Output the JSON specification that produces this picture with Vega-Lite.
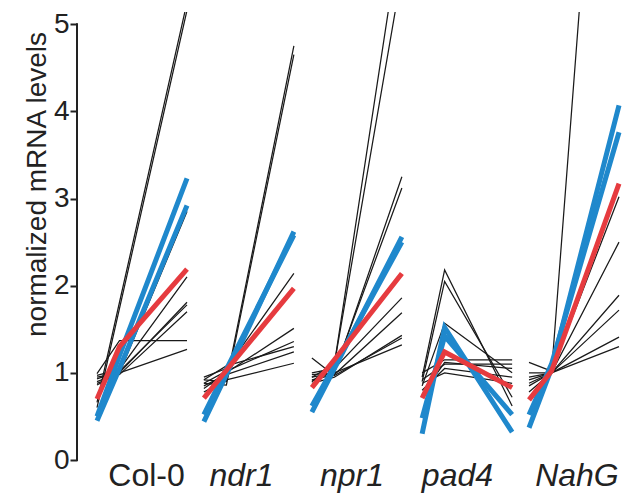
{
  "$schema": "https://vega.github.io/schema/vega-lite/v6.json",
  "width": 545,
  "height": 448,
  "autosize": {"type": "none"},
  "padding": {"left": 77, "top": 12, "right": 0, "bottom": 33},
  "background": "white",
  "config": {"view": {"stroke": null}, "font": "Liberation Sans"},
  "datasets": {
    "lines": [
      {"id":"c1","c":"k","x":0,"v":0.99},{"id":"c1","c":"k","x":1,"v":1.37},{"id":"c1","c":"k","x":4,"v":1.37},
      {"id":"c2","c":"k","x":0,"v":0.95},{"id":"c2","c":"k","x":1,"v":1.0},{"id":"c2","c":"k","x":4,"v":1.27},
      {"id":"c3","c":"k","x":0,"v":0.9},{"id":"c3","c":"k","x":1,"v":1.0},{"id":"c3","c":"k","x":4,"v":1.81},
      {"id":"c4","c":"k","x":0,"v":0.93},{"id":"c4","c":"k","x":1,"v":1.02},{"id":"c4","c":"k","x":4,"v":1.78},
      {"id":"c5","c":"k","x":0,"v":0.88},{"id":"c5","c":"k","x":1,"v":0.98},{"id":"c5","c":"k","x":4,"v":1.70},
      {"id":"c6","c":"k","x":0,"v":0.86},{"id":"c6","c":"k","x":1,"v":1.0},{"id":"c6","c":"k","x":4,"v":2.85},
      {"id":"c7","c":"k","x":0,"v":0.97},{"id":"c7","c":"k","x":1,"v":1.04},{"id":"c7","c":"k","x":4,"v":2.1},
      {"id":"c8","c":"k","x":0,"v":0.6},{"id":"c8","c":"k","x":1,"v":1.74},{"id":"c8","c":"k","x":4,"v":5.16},
      {"id":"c9","c":"k","x":0,"v":0.66},{"id":"c9","c":"k","x":1,"v":1.81},{"id":"c9","c":"k","x":4,"v":5.25},
      {"id":"cb1","c":"b","x":0,"v":0.5},{"id":"cb1","c":"b","x":1,"v":1.2},{"id":"cb1","c":"b","x":4,"v":3.23},
      {"id":"cb2","c":"b","x":0,"v":0.45},{"id":"cb2","c":"b","x":1,"v":1.05},{"id":"cb2","c":"b","x":4,"v":2.92},
      {"id":"cr","c":"r","x":0,"v":0.7},{"id":"cr","c":"r","x":1,"v":1.3},{"id":"cr","c":"r","x":4,"v":2.19},

      {"id":"n1","c":"k","x":4.75,"v":0.95},{"id":"n1","c":"k","x":5.75,"v":1.05},{"id":"n1","c":"k","x":8.75,"v":2.14},
      {"id":"n2","c":"k","x":4.75,"v":0.82},{"id":"n2","c":"k","x":5.75,"v":1.0},{"id":"n2","c":"k","x":8.75,"v":1.51},
      {"id":"n3","c":"k","x":4.75,"v":0.88},{"id":"n3","c":"k","x":5.75,"v":1.02},{"id":"n3","c":"k","x":8.75,"v":1.36},
      {"id":"n4","c":"k","x":4.75,"v":0.92},{"id":"n4","c":"k","x":5.75,"v":1.08},{"id":"n4","c":"k","x":8.75,"v":1.30},
      {"id":"n5","c":"k","x":4.75,"v":0.85},{"id":"n5","c":"k","x":5.75,"v":0.98},{"id":"n5","c":"k","x":8.75,"v":1.24},
      {"id":"n6","c":"k","x":4.75,"v":0.78},{"id":"n6","c":"k","x":5.75,"v":0.92},{"id":"n6","c":"k","x":8.75,"v":1.11},
      {"id":"n7","c":"k","x":4.75,"v":0.92},{"id":"n7","c":"k","x":5.75,"v":0.9},{"id":"n7","c":"k","x":8.75,"v":4.75},
      {"id":"n8","c":"k","x":4.75,"v":0.88},{"id":"n8","c":"k","x":5.75,"v":0.86},{"id":"n8","c":"k","x":8.75,"v":4.65},
      {"id":"nb1","c":"b","x":4.75,"v":0.44},{"id":"nb1","c":"b","x":5.75,"v":0.98},{"id":"nb1","c":"b","x":8.75,"v":2.62},
      {"id":"nb2","c":"b","x":4.75,"v":0.52},{"id":"nb2","c":"b","x":5.75,"v":1.04},{"id":"nb2","c":"b","x":8.75,"v":2.58},
      {"id":"nr","c":"r","x":4.75,"v":0.71},{"id":"nr","c":"r","x":5.75,"v":1.03},{"id":"nr","c":"r","x":8.75,"v":1.97},

      {"id":"p1","c":"k","x":9.55,"v":1.17},{"id":"p1","c":"k","x":10.55,"v":0.97},{"id":"p1","c":"k","x":13.55,"v":1.40},
      {"id":"p2","c":"k","x":9.55,"v":0.95},{"id":"p2","c":"k","x":10.55,"v":1.0},{"id":"p2","c":"k","x":13.55,"v":3.25},
      {"id":"p3","c":"k","x":9.55,"v":0.9},{"id":"p3","c":"k","x":10.55,"v":1.02},{"id":"p3","c":"k","x":13.55,"v":3.12},
      {"id":"p4","c":"k","x":9.55,"v":1.0},{"id":"p4","c":"k","x":10.55,"v":1.05},{"id":"p4","c":"k","x":13.55,"v":1.86},
      {"id":"p5","c":"k","x":9.55,"v":0.92},{"id":"p5","c":"k","x":10.55,"v":0.98},{"id":"p5","c":"k","x":13.55,"v":1.69},
      {"id":"p6","c":"k","x":9.55,"v":0.88},{"id":"p6","c":"k","x":10.55,"v":0.95},{"id":"p6","c":"k","x":13.55,"v":1.43},
      {"id":"p7","c":"k","x":9.55,"v":0.98},{"id":"p7","c":"k","x":10.55,"v":1.0},{"id":"p7","c":"k","x":13.55,"v":1.32},
      {"id":"p8","c":"k","x":9.55,"v":0.95},{"id":"p8","c":"k","x":10.55,"v":1.1},{"id":"p8","c":"k","x":13.55,"v":6.17},
      {"id":"p9","c":"k","x":9.55,"v":0.9},{"id":"p9","c":"k","x":10.55,"v":1.1},{"id":"p9","c":"k","x":13.55,"v":5.59},
      {"id":"pb1","c":"b","x":9.55,"v":0.55},{"id":"pb1","c":"b","x":10.55,"v":1.05},{"id":"pb1","c":"b","x":13.55,"v":2.56},
      {"id":"pb2","c":"b","x":9.55,"v":0.62},{"id":"pb2","c":"b","x":10.55,"v":1.08},{"id":"pb2","c":"b","x":13.55,"v":2.5},
      {"id":"pr","c":"r","x":9.55,"v":0.83},{"id":"pr","c":"r","x":10.55,"v":1.15},{"id":"pr","c":"r","x":13.55,"v":2.14},

      {"id":"d1","c":"k","x":14.45,"v":0.95},{"id":"d1","c":"k","x":15.45,"v":2.18},{"id":"d1","c":"k","x":18.45,"v":0.62},
      {"id":"d2","c":"k","x":14.45,"v":0.9},{"id":"d2","c":"k","x":15.45,"v":2.05},{"id":"d2","c":"k","x":18.45,"v":0.72},
      {"id":"d3","c":"k","x":14.45,"v":0.85},{"id":"d3","c":"k","x":15.45,"v":1.57},{"id":"d3","c":"k","x":18.45,"v":1.0},
      {"id":"d4","c":"k","x":14.45,"v":1.0},{"id":"d4","c":"k","x":15.45,"v":1.15},{"id":"d4","c":"k","x":18.45,"v":1.15},
      {"id":"d5","c":"k","x":14.45,"v":0.92},{"id":"d5","c":"k","x":15.45,"v":1.1},{"id":"d5","c":"k","x":18.45,"v":1.1},
      {"id":"d6","c":"k","x":14.45,"v":0.8},{"id":"d6","c":"k","x":15.45,"v":1.05},{"id":"d6","c":"k","x":18.45,"v":0.95},
      {"id":"d7","c":"k","x":14.45,"v":0.88},{"id":"d7","c":"k","x":15.45,"v":1.0},{"id":"d7","c":"k","x":18.45,"v":0.88},
      {"id":"d8","c":"k","x":14.45,"v":0.75},{"id":"d8","c":"k","x":15.45,"v":1.12},{"id":"d8","c":"k","x":18.45,"v":1.05},
      {"id":"db1","c":"b","x":14.45,"v":0.3},{"id":"db1","c":"b","x":15.45,"v":1.52},{"id":"db1","c":"b","x":18.45,"v":0.32},
      {"id":"db2","c":"b","x":14.45,"v":0.48},{"id":"db2","c":"b","x":15.45,"v":1.42},{"id":"db2","c":"b","x":18.45,"v":0.52},
      {"id":"dr","c":"r","x":14.45,"v":0.71},{"id":"dr","c":"r","x":15.45,"v":1.24},{"id":"dr","c":"r","x":18.45,"v":0.83},

      {"id":"h1","c":"k","x":19.2,"v":1.12},{"id":"h1","c":"k","x":20.2,"v":1.02},{"id":"h1","c":"k","x":23.2,"v":3.02},
      {"id":"h2","c":"k","x":19.2,"v":1.0},{"id":"h2","c":"k","x":20.2,"v":1.0},{"id":"h2","c":"k","x":23.2,"v":2.5},
      {"id":"h3","c":"k","x":19.2,"v":0.92},{"id":"h3","c":"k","x":20.2,"v":1.0},{"id":"h3","c":"k","x":23.2,"v":1.89},
      {"id":"h4","c":"k","x":19.2,"v":0.85},{"id":"h4","c":"k","x":20.2,"v":1.0},{"id":"h4","c":"k","x":23.2,"v":1.72},
      {"id":"h5","c":"k","x":19.2,"v":0.78},{"id":"h5","c":"k","x":20.2,"v":1.0},{"id":"h5","c":"k","x":23.2,"v":1.41},
      {"id":"h6","c":"k","x":19.2,"v":0.95},{"id":"h6","c":"k","x":20.2,"v":1.0},{"id":"h6","c":"k","x":23.2,"v":1.30},
      {"id":"h7","c":"k","x":19.2,"v":0.88},{"id":"h7","c":"k","x":20.2,"v":1.0},{"id":"h7","c":"k","x":23.2,"v":11.1},
      {"id":"hb1","c":"b","x":19.2,"v":0.37},{"id":"hb1","c":"b","x":20.2,"v":1.05},{"id":"hb1","c":"b","x":23.2,"v":4.07},
      {"id":"hb2","c":"b","x":19.2,"v":0.52},{"id":"hb2","c":"b","x":20.2,"v":1.1},{"id":"hb2","c":"b","x":23.2,"v":3.76},
      {"id":"hr","c":"r","x":19.2,"v":0.69},{"id":"hr","c":"r","x":20.2,"v":1.02},{"id":"hr","c":"r","x":23.2,"v":3.17}
    ],
    "labels": [
      {"g":"Col-0","xpos":2.2,"it":0},
      {"g":"ndr1","xpos":6.42,"it":1},
      {"g":"npr1","xpos":11.33,"it":1},
      {"g":"pad4","xpos":16.02,"it":1},
      {"g":"NahG","xpos":21.33,"it":1}
    ]
  },
  "layer": [
    {
      "data": {"values": [{"lo": 0, "hi": 5}]},
      "mark": {"type": "rule", "strokeWidth": 2, "color": "#222222", "strokeCap": "square"},
      "encoding": {
        "x": {"datum": -0.889, "type": "quantitative", "scale": {"domain": [-0.889, 23.333], "nice": false, "zero": false}, "axis": null},
        "y": {"field": "lo", "type": "quantitative", "scale": {"domain": [0, 5.14], "nice": false, "zero": false},
          "axis": {"values": [0, 1, 2, 3, 4, 5], "format": "d", "domain": false, "grid": false, "ticks": true, "tickSize": 7, "tickWidth": 2, "tickColor": "#222222",
            "labelFontSize": 28, "labelColor": "#222222", "labelFont": "Liberation Sans", "labelPadding": 1, "labelOverlap": false, "labelFlush": false, "labelBound": false,
            "title": "normalized mRNA levels", "titleFontSize": 28, "titleFontWeight": "normal", "titleColor": "#222222", "titleFont": "Liberation Sans",
            "titleX": -32, "titleY": 172, "titleAngle": -90, "titleAlign": "center", "titleBaseline": "alphabetic"}},
        "y2": {"field": "hi"}
      }
    },
    {
      "data": {"name": "lines"},
      "transform": [{"filter": "datum.c == 'k'"}],
      "mark": {"type": "line", "color": "#1a1a1a", "strokeWidth": 1.25, "clip": true},
      "encoding": {
        "x": {"field": "x", "type": "quantitative", "scale": {"domain": [-0.889, 23.333], "nice": false, "zero": false}, "axis": null},
        "y": {"field": "v", "type": "quantitative", "scale": {"domain": [0, 5.14], "nice": false, "zero": false}, "title": "normalized mRNA levels"},
        "detail": {"field": "id"}
      }
    },
    {
      "data": {"name": "lines"},
      "transform": [{"filter": "datum.c == 'b'"}],
      "mark": {"type": "line", "color": "#1f88cc", "strokeWidth": 5, "clip": true},
      "encoding": {
        "x": {"field": "x", "type": "quantitative", "scale": {"domain": [-0.889, 23.333], "nice": false, "zero": false}, "axis": null},
        "y": {"field": "v", "type": "quantitative", "scale": {"domain": [0, 5.14], "nice": false, "zero": false}, "title": "normalized mRNA levels"},
        "detail": {"field": "id"}
      }
    },
    {
      "data": {"name": "lines"},
      "transform": [{"filter": "datum.c == 'r'"}],
      "mark": {"type": "line", "color": "#e63b3f", "strokeWidth": 5, "clip": true},
      "encoding": {
        "x": {"field": "x", "type": "quantitative", "scale": {"domain": [-0.889, 23.333], "nice": false, "zero": false}, "axis": null},
        "y": {"field": "v", "type": "quantitative", "scale": {"domain": [0, 5.14], "nice": false, "zero": false}, "title": "normalized mRNA levels"},
        "detail": {"field": "id"}
      }
    },
    {
      "data": {"name": "labels"},
      "transform": [{"filter": "datum.it == 0"}],
      "mark": {"type": "text", "fontSize": 32, "font": "Liberation Sans", "color": "#222222", "align": "center", "baseline": "alphabetic"},
      "encoding": {
        "x": {"field": "xpos", "type": "quantitative", "scale": {"domain": [-0.889, 23.333], "nice": false, "zero": false}, "axis": null},
        "y": {"datum": -0.3, "type": "quantitative", "scale": {"domain": [0, 5.14], "nice": false, "zero": false}, "title": "normalized mRNA levels"},
        "text": {"field": "g"}
      }
    },
    {
      "data": {"name": "labels"},
      "transform": [{"filter": "datum.it == 1"}],
      "mark": {"type": "text", "fontSize": 32, "font": "Liberation Sans", "fontStyle": "italic", "color": "#222222", "align": "center", "baseline": "alphabetic"},
      "encoding": {
        "x": {"field": "xpos", "type": "quantitative", "scale": {"domain": [-0.889, 23.333], "nice": false, "zero": false}, "axis": null},
        "y": {"datum": -0.3, "type": "quantitative", "scale": {"domain": [0, 5.14], "nice": false, "zero": false}, "title": "normalized mRNA levels"},
        "text": {"field": "g"}
      }
    }
  ]
}
